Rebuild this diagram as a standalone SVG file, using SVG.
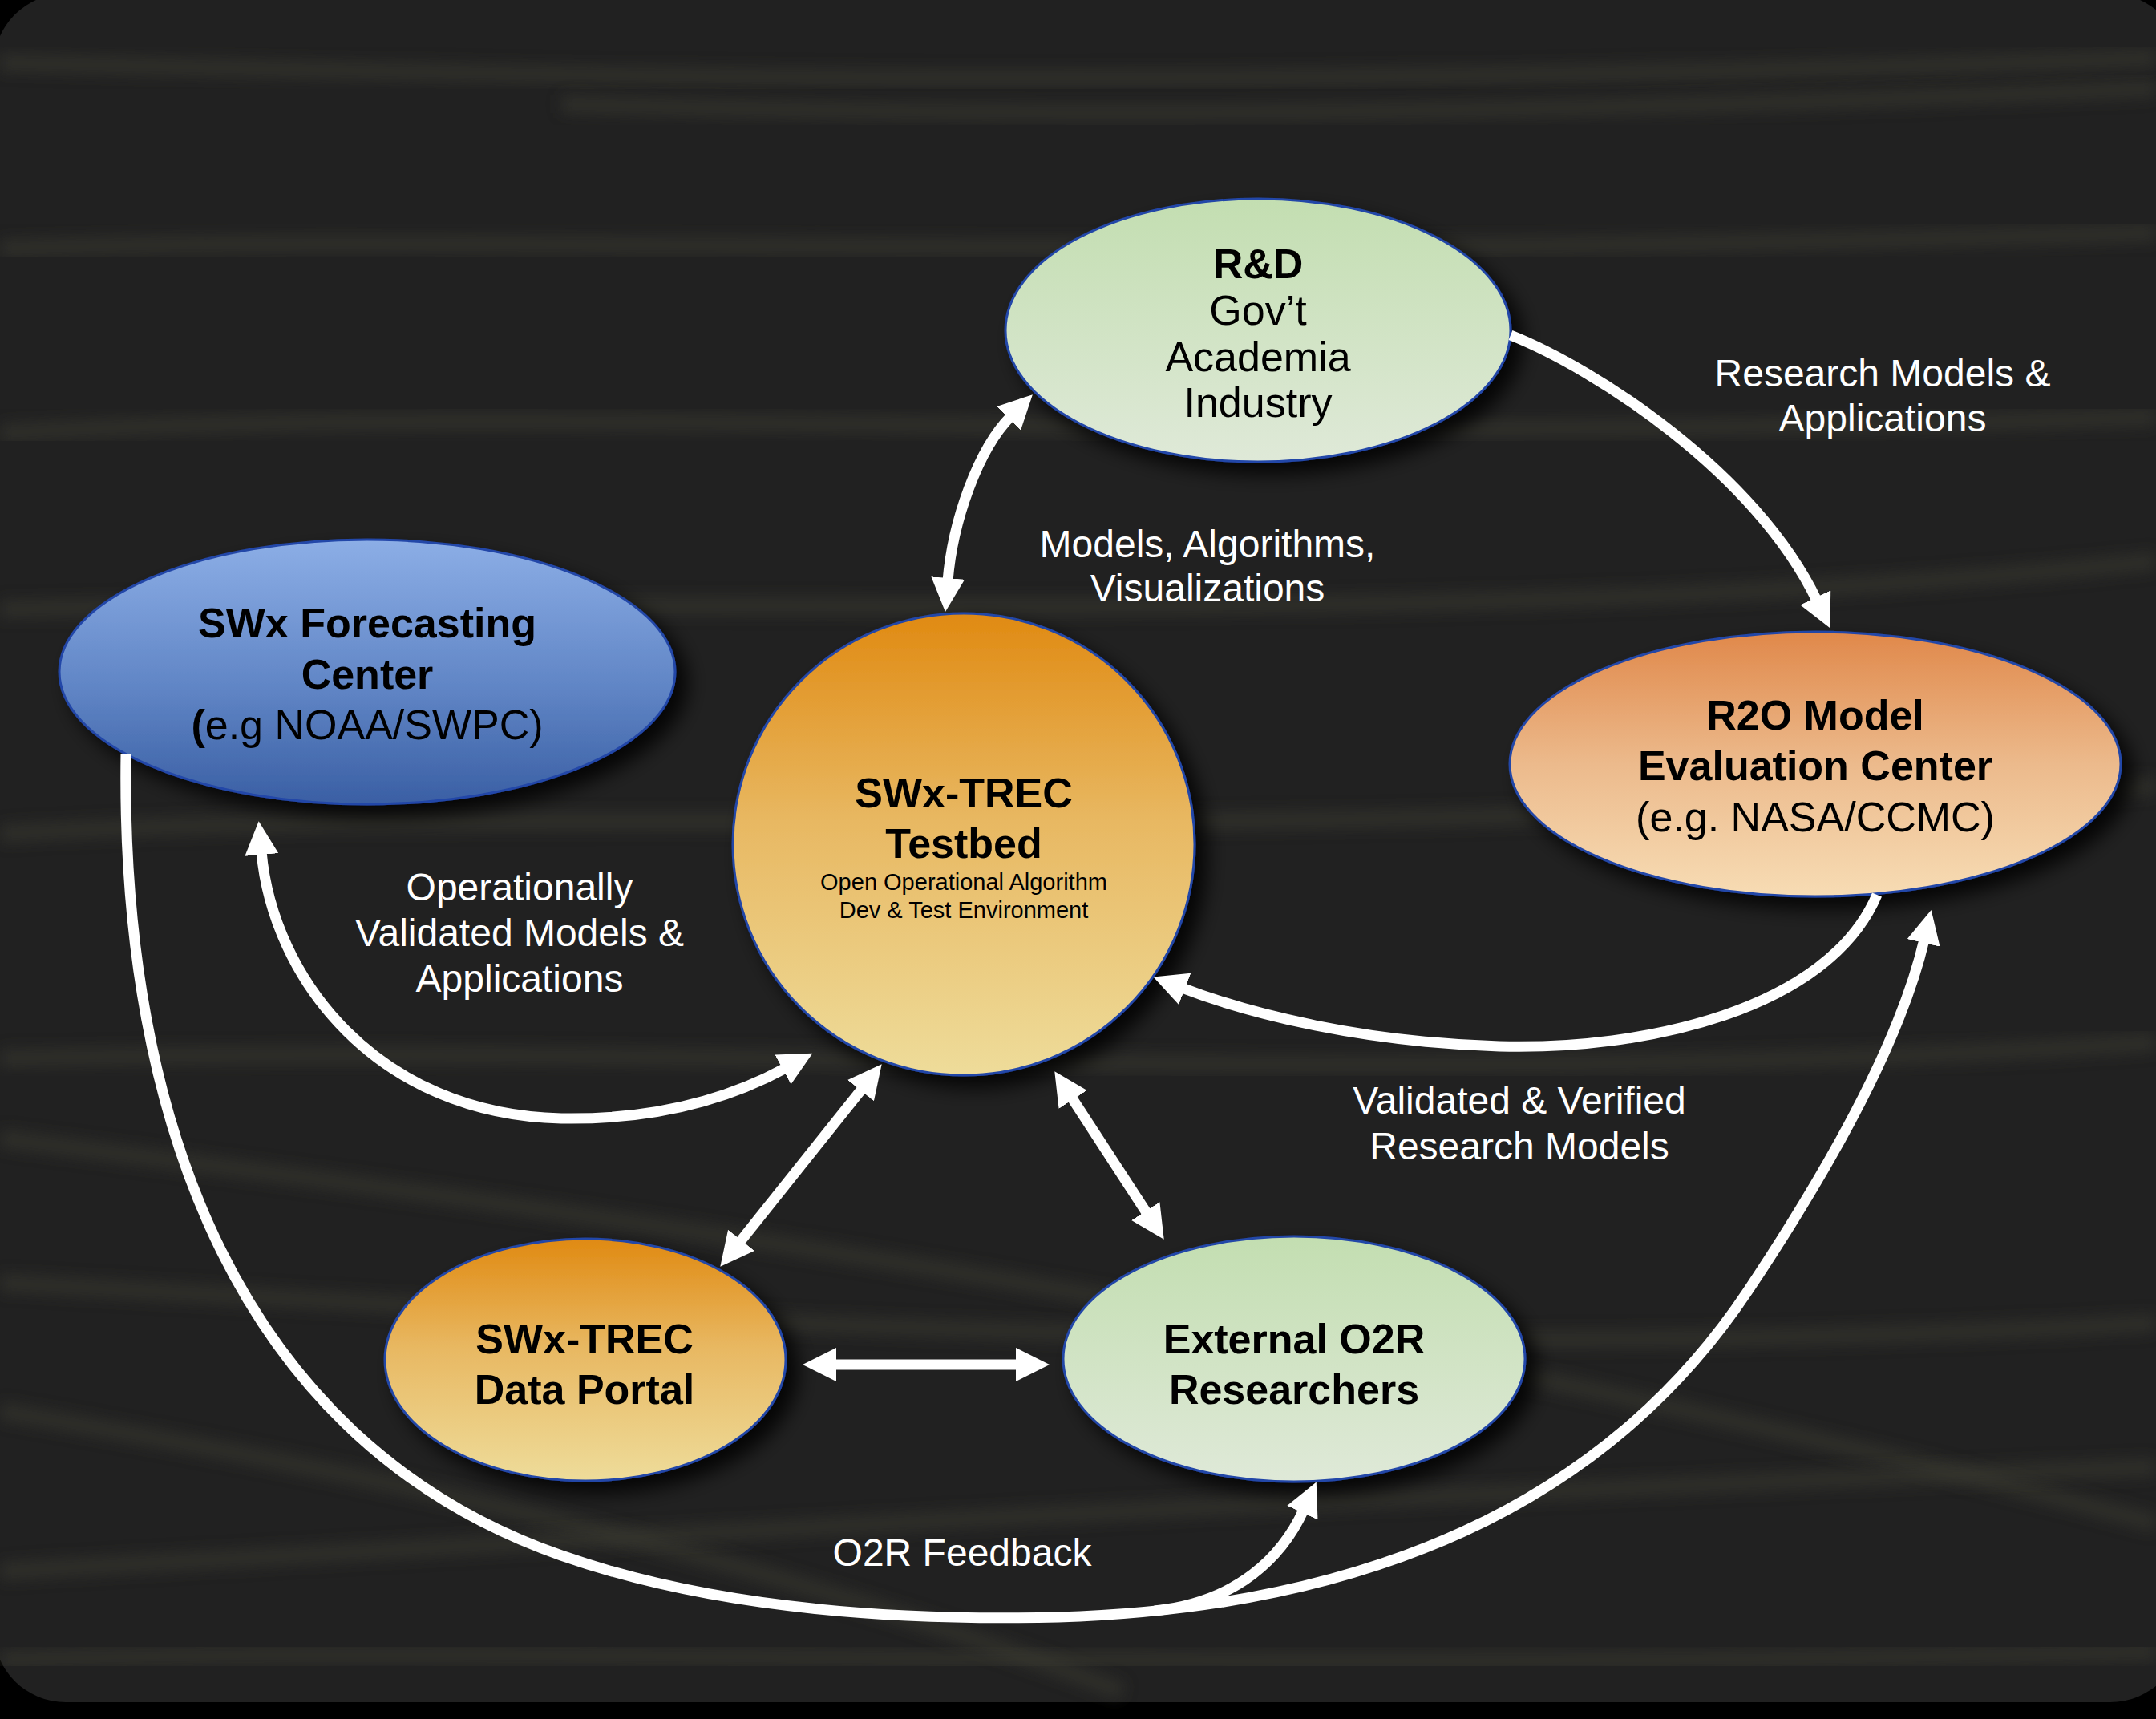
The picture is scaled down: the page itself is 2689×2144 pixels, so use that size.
<svg xmlns="http://www.w3.org/2000/svg" width="2689" height="2144" viewBox="0 0 2689 2144">
<defs>
<style>
.nb{font-family:"Liberation Sans",Arial,sans-serif;font-weight:bold;font-size:52px;fill:#000;text-anchor:middle}
.nr{font-family:"Liberation Sans",Arial,sans-serif;font-size:52px;fill:#000;text-anchor:middle}
.sm{font-family:"Liberation Sans",Arial,sans-serif;font-size:29px;fill:#000;text-anchor:middle}
.lb{font-family:"Liberation Sans",Arial,sans-serif;font-size:48px;fill:#fff;text-anchor:middle}
.node{stroke:#2346a8;stroke-width:3;filter:url(#sh)}
.con{fill:none;stroke:#fff;stroke-width:13}
.arr2{marker-start:url(#ah);marker-end:url(#ah)}
.arr1{marker-end:url(#ah)}
.streak{fill:none;stroke:#3a3a30;stroke-width:22;opacity:0.55;filter:url(#bl)}
</style>
<filter id="sh" x="-20%" y="-20%" width="150%" height="150%">
<feDropShadow dx="14" dy="14" stdDeviation="12" flood-color="#000" flood-opacity="0.85"/>
</filter>
<filter id="bl" x="-5%" y="-50%" width="110%" height="200%">
<feGaussianBlur stdDeviation="9"/>
</filter>
<linearGradient id="gGreen" x1="0" y1="0" x2="0" y2="1">
<stop offset="0" stop-color="#c3deb1"/><stop offset="1" stop-color="#dfe9d8"/>
</linearGradient>
<linearGradient id="gBlue" x1="0" y1="0" x2="0" y2="1">
<stop offset="0" stop-color="#8caee6"/><stop offset="0.55" stop-color="#6186c6"/><stop offset="1" stop-color="#3a5fa4"/>
</linearGradient>
<linearGradient id="gOrange" x1="0" y1="0" x2="0" y2="1">
<stop offset="0" stop-color="#e08a12"/><stop offset="0.45" stop-color="#e8b862"/><stop offset="1" stop-color="#eedc9a"/>
</linearGradient>
<linearGradient id="gPeach" x1="0" y1="0" x2="0" y2="1">
<stop offset="0" stop-color="#e0884a"/><stop offset="0.5" stop-color="#ecba8c"/><stop offset="1" stop-color="#f7dcb4"/>
</linearGradient>
<marker id="ah" viewBox="0 0 42 42" refX="4" refY="21" markerWidth="42" markerHeight="42" markerUnits="userSpaceOnUse" orient="auto-start-reverse">
<path d="M0,0 L42,21 L0,42 z" fill="#fff"/>
</marker>
</defs>

<g id="background">
<rect x="0" y="0" width="2689" height="2144" fill="#000"/>
<rect x="-8" y="-8" width="2730" height="2131" rx="90" ry="90" fill="#212121"/>
<path class="streak" d="M0,78 C 800,98 1600,112 2689,72"/>
<path class="streak" d="M700,130 C 1400,150 2000,140 2689,110"/>
<path class="streak" d="M0,310 C 600,290 1400,330 2689,290"/>
<path class="streak" d="M0,540 C 700,500 1500,560 2689,520"/>
<path class="streak" d="M0,760 C 900,740 1800,790 2689,700"/>
<path class="streak" d="M0,1040 C 700,1000 1600,1060 2689,980"/>
<path class="streak" d="M0,1320 C 900,1300 1800,1360 2689,1300"/>
<path class="streak" d="M0,1420 C 800,1520 1700,1640 2689,1900"/>
<path class="streak" d="M0,1600 C 900,1650 1800,1700 2689,1650"/>
<path class="streak" d="M0,1760 C 600,1860 1000,1960 1400,2110"/>
<path class="streak" d="M0,1960 C 900,1910 1800,1860 2689,1830"/>
<path class="streak" d="M0,2070 C 700,2050 1500,2090 2689,2060"/>
</g>

<g id="node-rd">
<ellipse class="node" cx="1569" cy="412" rx="315" ry="164" fill="url(#gGreen)"/>
<text class="nb" x="1569" y="347" font-size="48">R&amp;D</text>
<text class="nr" x="1569" y="405" font-size="48">Gov’t</text>
<text class="nr" x="1569" y="463" font-size="48">Academia</text>
<text class="nr" x="1569" y="520" font-size="48">Industry</text>
</g>

<g id="node-forecast">
<ellipse class="node" cx="458" cy="838" rx="384" ry="165" fill="url(#gBlue)"/>
<text class="nb" x="458" y="795">SWx Forecasting</text>
<text class="nb" x="458" y="859">Center</text>
<text class="nr" x="458" y="922"><tspan font-weight="bold">(</tspan>e.g NOAA/SWPC)</text>
</g>

<g id="node-testbed">
<circle class="node" cx="1202" cy="1053" r="288" fill="url(#gOrange)"/>
<text class="nb" x="1202" y="1007">SWx-TREC</text>
<text class="nb" x="1202" y="1070">Testbed</text>
<text class="sm" x="1202" y="1110">Open Operational Algorithm</text>
<text class="sm" x="1202" y="1145">Dev &amp; Test Environment</text>
</g>

<g id="node-r2o">
<ellipse class="node" cx="2264" cy="953" rx="381" ry="165" fill="url(#gPeach)"/>
<text class="nb" x="2264" y="910">R2O Model</text>
<text class="nb" x="2264" y="973">Evaluation Center</text>
<text class="nr" x="2264" y="1037">(e.g. NASA/CCMC)</text>
</g>

<g id="node-portal">
<ellipse class="node" cx="730" cy="1696" rx="250" ry="151" fill="url(#gOrange)"/>
<text class="nb" x="729" y="1688">SWx-TREC</text>
<text class="nb" x="729" y="1751">Data Portal</text>
</g>

<g id="node-external">
<ellipse class="node" cx="1614" cy="1695" rx="288" ry="153" fill="url(#gGreen)"/>
<text class="nb" x="1614" y="1688" font-size="50">External O2R</text>
<text class="nb" x="1614" y="1751" font-size="50">Researchers</text>
</g>

<g id="connectors">
<path class="con arr1" d="M1884,418 C 1990,460 2190,590 2266,749"/>
<path class="con arr2" d="M1182,725 C 1188,650 1220,560 1261,519"/>
<path class="con arr2" d="M326,1062 C 340,1220 470,1390 700,1395 C 820,1397 910,1370 980,1332"/>
<path class="con arr1" d="M2341,1116 C 2280,1260 2050,1310 1870,1305 C 1700,1300 1560,1265 1474,1232"/>
<path class="con arr2" d="M1076,1357 L922,1550"/>
<path class="con arr2" d="M1336,1368 L1431,1514"/>
<path class="con arr2" d="M1039,1702 L1271,1702"/>
<path class="con arr1" d="M157,940 C 150,1400 300,1800 700,1940 C 880,2003 1100,2022 1320,2017 C 1700,2005 2000,1880 2180,1610 C 2280,1460 2370,1300 2400,1172"/>
<path class="con arr1" d="M1440,2009 C 1545,1998 1600,1940 1626,1883"/>
</g>

<g id="labels">
<text class="lb" x="2348" y="482">Research Models &amp;</text>
<text class="lb" x="2348" y="538">Applications</text>
<text class="lb" x="1506" y="695">Models, Algorithms,</text>
<text class="lb" x="1506" y="750">Visualizations</text>
<text class="lb" x="648" y="1123">Operationally</text>
<text class="lb" x="648" y="1180">Validated Models &amp;</text>
<text class="lb" x="648" y="1237">Applications</text>
<text class="lb" x="1895" y="1389">Validated &amp; Verified</text>
<text class="lb" x="1895" y="1446">Research Models</text>
<text class="lb" x="1200" y="1953">O2R Feedback</text>
</g>
</svg>
